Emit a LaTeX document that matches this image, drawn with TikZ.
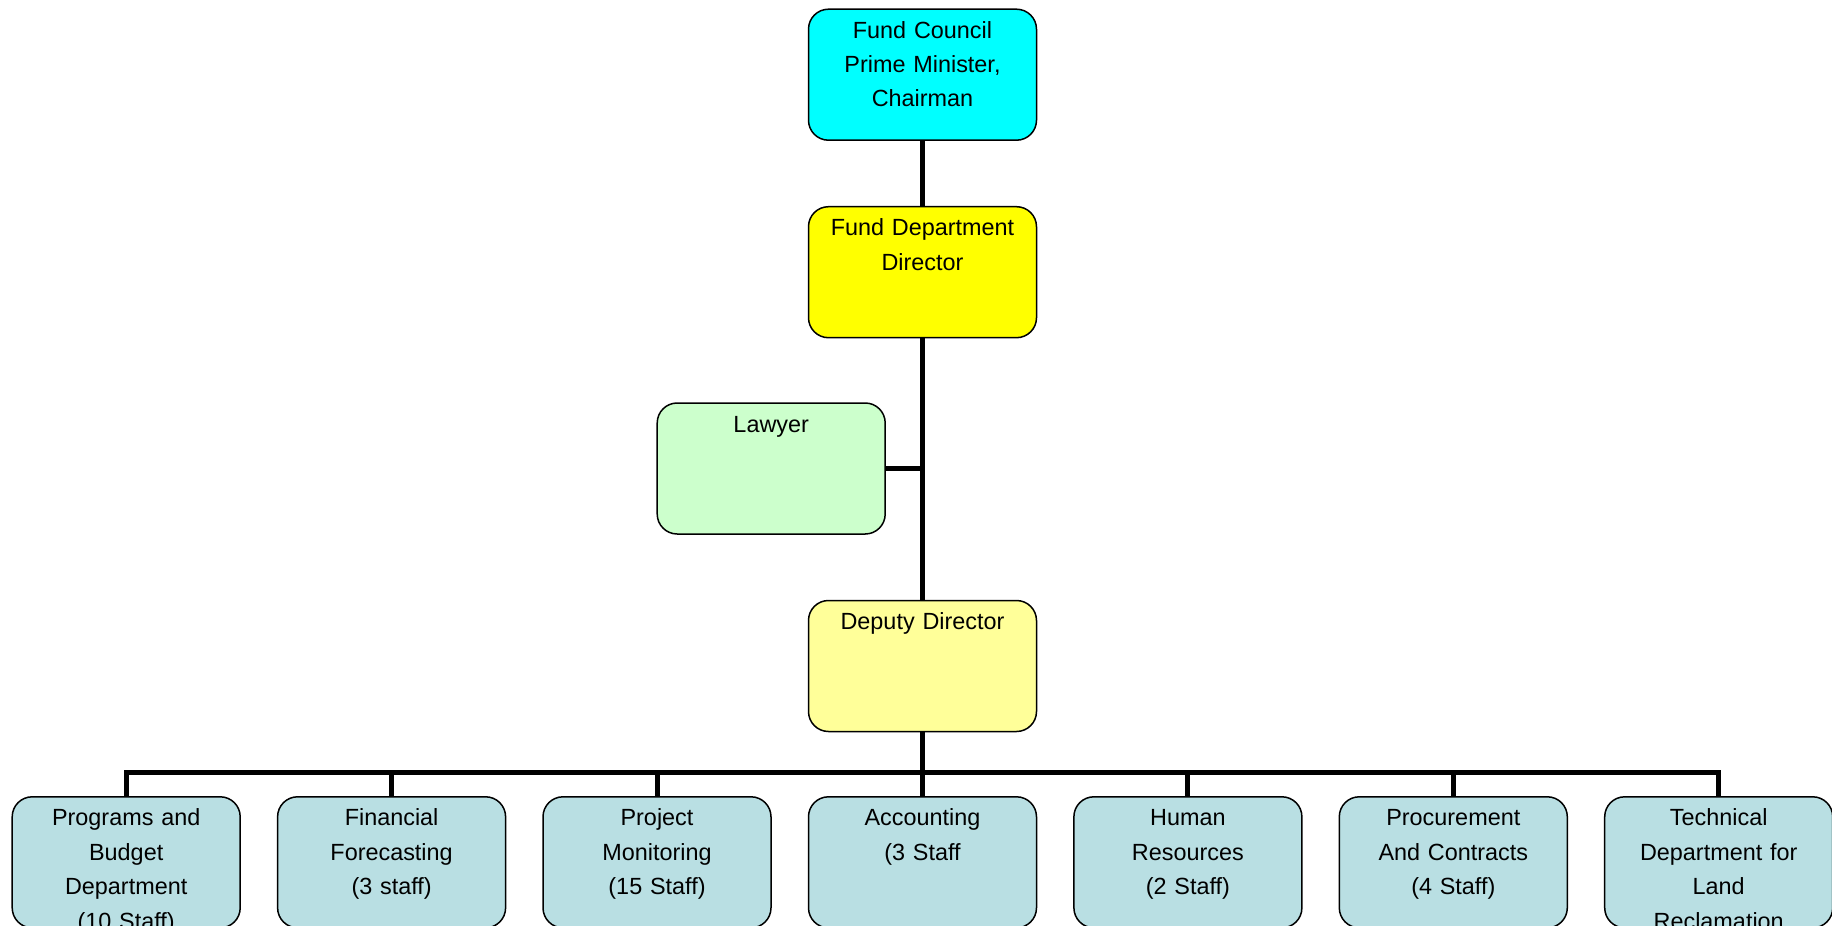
\documentclass[tikz,border=0pt]{standalone}
\usepackage{fontspec}
\setmainfont{Liberation Sans}
\usepackage{tikz}

\definecolor{councilcyan}{RGB}{0,255,255}
\definecolor{directoryellow}{RGB}{255,255,0}
\definecolor{deputyyellow}{RGB}{255,255,153}
\definecolor{lawyergreen}{RGB}{204,255,204}
\definecolor{deptblue}{RGB}{185,223,227}

\begin{document}
\begin{tikzpicture}[
        x = 0.5pt, y = -0.5pt,
        unit/.style = {draw, line width = 0.75pt, rounded corners = 10pt,
            text width = 114pt, align = center, inner sep = 0pt,
            text height = 14.5pt, text depth = 51pt,
            font = \fontsize{11.7}{17.2}\selectfont},
        link/.style = {line width = 2.5pt}]
        \path[use as bounding box, clip] (0,0) rectangle (1832,926);

        % top of the chart
        \node[unit, fill=councilcyan] (council) at (922.5,74.7) {Fund Council\\Prime Minister,\\Chairman};
        \node[unit, fill=directoryellow] (director) at (922.5,272.2) {Fund Department\\Director};
        \node[unit, fill=lawyergreen] (lawyer) at (771.2,468.5) {Lawyer};
        \node[unit, fill=deputyyellow] (deputy) at (922.5,666) {Deputy Director};

        % departments
        \foreach \name/\x/\txt in {
            programs/126.2/{Programs and\\Budget\\Department\\(10 Staff)},
            forecast/391.6/{Financial\\Forecasting\\(3 staff)},
            monitor/657/{Project\\Monitoring\\(15 Staff)},
            accounts/922.5/{Accounting\\(3 Staff},
            hr/1187.9/{Human\\Resources\\(2 Staff)},
            procure/1453.3/{Procurement\\And Contracts\\(4 Staff)},
            technical/1718.7/{Technical\\Department for\\Land\\Reclamation}}
            \node[unit, fill=deptblue] (\name) at (\x,862.3) {\txt};

        \coordinate (bar) at (922.5,772.3);
        \draw[link] (council.south) -- (director.north);
        \draw[link] (director.south) -- (deputy.north);
        \draw[link] (lawyer.east) -- (lawyer.east -| director.south);
        \draw[link] (deputy.south) -- (bar);
        \draw[link] (programs.north) |- (bar) -| (technical.north);
        \foreach \name in {forecast, monitor, accounts, hr, procure}
            \draw[link] (\name.north) -- (\name.north |- bar);
    \end{tikzpicture}
\end{document}
